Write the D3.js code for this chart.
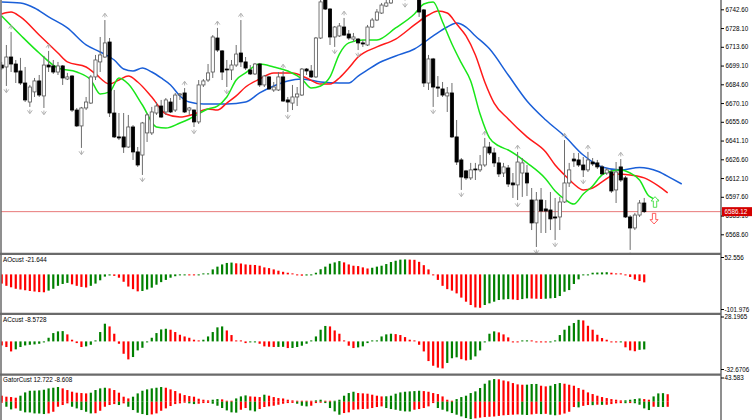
<!DOCTYPE html>
<html><head><meta charset="utf-8">
<script src="https://cdn.jsdelivr.net/npm/d3@7"></script>
<style>
html,body{margin:0;padding:0;background:#fff;overflow:hidden;}
svg{display:block;font-family:"Liberation Sans",Arial,sans-serif;}
</style></head><body>
<script>
// ---------------- DATA ----------------
// candles: [open, high, low, close]
const ohlc = [
[6699.5,6701.9,6695.7,6697.2],[6698.0,6715.0,6683.3,6705.7],[6705.7,6725.1,6694.1,6700.3],[6700.3,6703.4,6685.6,6694.1],
[6694.9,6705.0,6684.1,6685.6],[6685.6,6698.0,6670.9,6672.5],[6670.9,6684.1,6667.1,6682.5],[6678.7,6689.5,6674.8,6687.2],
[6687.2,6691.8,6674.8,6676.3],[6675.6,6706.5,6666.3,6699.5],[6699.5,6710.4,6694.1,6698.0],[6698.8,6703.4,6692.6,6694.1],
[6694.1,6701.9,6691.8,6698.8],[6698.8,6699.5,6684.1,6689.5],[6688.7,6693.4,6687.9,6690.3],[6691.0,6691.8,6663.2,6664.7],
[6664.7,6666.3,6651.6,6652.4],[6652.4,6667.1,6635.4,6666.3],[6666.3,6674.8,6664.7,6670.9],[6670.1,6691.8,6669.4,6690.3],
[6690.3,6707.3,6687.9,6703.4],[6701.9,6721.2,6694.1,6707.3],[6705.7,6734.3,6705.0,6716.6],[6717.3,6720.4,6659.3,6662.4],
[6662.4,6680.2,6643.1,6643.9],[6643.9,6662.4,6641.5,6643.1],[6643.9,6662.4,6631.5,6636.1],[6636.1,6660.9,6635.4,6651.6],
[6651.6,6653.1,6626.1,6632.3],[6632.3,6636.1,6620.7,6622.2],[6629.9,6655.5,6614.5,6654.7],[6647.0,6662.4,6640.0,6660.9],
[6647.0,6667.1,6645.4,6663.2],[6662.4,6670.9,6660.9,6667.8],[6667.8,6672.5,6658.6,6659.3],[6663.2,6674.0,6660.9,6672.5],
[6670.9,6674.0,6662.4,6663.2],[6664.7,6677.9,6663.2,6676.3],[6676.3,6677.9,6672.5,6677.1],[6677.9,6681.7,6662.4,6663.2],
[6664.7,6667.1,6660.9,6666.3],[6664.7,6665.0,6651.6,6655.5],[6655.5,6687.9,6653.9,6684.1],[6684.1,6688.7,6682.5,6687.2],
[6687.9,6700.3,6686.4,6693.4],[6694.1,6722.7,6689.5,6721.2],[6720.4,6728.2,6709.6,6711.1],[6710.4,6711.1,6687.9,6694.1],
[6696.4,6703.4,6682.5,6695.7],[6695.7,6703.4,6687.9,6699.5],[6699.5,6715.0,6698.0,6708.0],[6708.8,6734.3,6698.0,6701.9],
[6701.9,6705.7,6695.7,6697.2],[6695.7,6699.5,6691.8,6692.6],[6692.6,6701.1,6691.8,6700.3],[6700.3,6701.1,6682.5,6684.1],
[6684.1,6691.8,6682.5,6691.0],[6690.3,6691.0,6680.2,6681.0],[6680.2,6686.4,6678.7,6682.5],[6680.2,6694.1,6679.4,6690.3],
[6690.3,6694.9,6670.9,6671.7],[6672.5,6674.8,6663.2,6670.9],[6670.1,6684.1,6664.7,6674.8],[6674.8,6682.5,6667.8,6677.1],
[6676.3,6697.2,6675.6,6696.4],[6696.4,6697.2,6691.8,6694.9],[6694.9,6699.5,6689.5,6690.3],[6690.3,6721.2,6689.5,6720.4],
[6720.4,6753.7,6719.6,6748.3],[6752.1,6757.5,6742.1,6742.8],[6742.8,6743.6,6715.0,6721.2],[6721.2,6729.7,6713.5,6728.9],
[6722.0,6732.0,6721.2,6729.7],[6728.9,6735.9,6722.0,6722.7],[6723.5,6726.6,6718.9,6720.4],[6719.6,6724.3,6717.3,6721.2],
[6719.6,6720.4,6711.1,6716.6],[6716.6,6718.9,6713.5,6715.8],[6715.0,6730.5,6714.2,6728.9],[6728.9,6735.9,6728.2,6734.3],
[6734.3,6742.8,6733.5,6740.5],[6739.7,6747.5,6739.0,6745.9],[6745.1,6749.8,6744.4,6747.5],[6747.5,6753.7,6746.7,6751.3],
[6751.5,6761.0,6751.0,6758.5],[6758.5,6766.0,6755.0,6763.0],[6763.0,6767.0,6749.5,6753.0],[6753.0,6762.0,6752.0,6760.0],
[6760.0,6764.0,6751.0,6752.0],[6751.3,6755.0,6736.7,6740.5],[6742.1,6742.8,6682.5,6685.6],[6685.6,6707.3,6680.2,6704.2],
[6704.2,6705.0,6667.1,6682.5],[6682.5,6691.0,6674.8,6681.7],[6681.0,6686.4,6674.8,6676.3],[6675.6,6682.5,6663.2,6677.9],
[6677.9,6685.6,6643.1,6643.9],[6643.9,6657.0,6622.2,6624.5],[6626.1,6627.6,6602.9,6612.9],[6617.6,6618.4,6610.6,6612.2],
[6612.2,6623.8,6610.6,6618.4],[6619.1,6623.8,6610.6,6618.4],[6618.4,6629.9,6616.8,6622.2],[6622.2,6643.1,6620.7,6636.1],
[6636.1,6640.0,6629.9,6631.5],[6631.5,6635.4,6620.7,6623.8],[6623.8,6628.4,6612.9,6615.3],[6616.0,6623.8,6612.9,6620.7],
[6619.9,6622.2,6605.2,6607.5],[6608.3,6616.0,6596.7,6606.8],[6606.8,6632.3,6595.1,6624.5],[6616.0,6627.6,6597.5,6623.8],
[6616.0,6622.2,6598.2,6608.3],[6595.1,6604.4,6571.9,6577.4],[6577.4,6601.3,6558.8,6595.1],[6595.1,6604.4,6569.6,6586.6],
[6588.2,6595.1,6569.6,6586.6],[6587.4,6601.3,6571.9,6580.5],[6582.0,6596.7,6564.2,6581.2],[6582.0,6597.5,6571.9,6593.6],
[6593.6,6641.5,6592.8,6608.3],[6608.3,6623.8,6605.2,6618.4],[6626.8,6631.5,6620.7,6625.3],[6626.1,6631.5,6620.7,6622.2],
[6622.2,6628.4,6612.9,6618.4],[6618.4,6632.3,6616.8,6626.1],[6624.5,6627.6,6621.4,6623.0],[6623.8,6626.1,6619.1,6620.7],
[6620.7,6622.2,6614.5,6615.3],[6616.0,6619.9,6614.5,6618.4],[6616.8,6618.4,6600.6,6602.1],[6602.9,6624.5,6592.8,6616.8],
[6620.7,6626.8,6609.1,6610.6],[6612.2,6613.7,6581.2,6582.0],[6582.0,6583.5,6556.5,6573.5],[6573.5,6585.1,6571.9,6583.5],
[6583.5,6595.1,6582.0,6592.8],[6592.8,6596.7,6585.1,6586.12]
];

// alligator lines: [bar index, price]
const jaw = [[0,6748.3],[4,6747.5],[7,6743.6],[10,6736.7],[14,6728.2],[18,6715.0],[21,6709.6],[24,6703.4],[26,6696.4],[28,6694.9],[30,6697.2],[32,6694.1],[34,6689.5],[36,6684.1],[38,6675.6],[40,6670.9],[43,6669.4],[48,6669.4],[52,6670.9],[55,6677.9],[58,6683.3],[61,6687.2],[64,6688.7],[68,6686.4],[72,6685.6],[74,6685.6],[76,6691.0],[78,6695.7],[80,6700.3],[84,6706.5],[88,6711.9],[92,6722.0],[95,6728.9],[97,6732.0],[99,6728.9],[101,6722.0],[104,6712.0],[108,6691.8],[112,6671.7],[116,6657.0],[120,6644.6],[124,6629.9],[128,6620.7],[132,6618.4],[136,6620.3],[140,6617.2],[143,6611.4],[145,6607.5]];
const teeth = [[0,6739.0],[2,6740.5],[4,6736.7],[8,6722.7],[12,6708.8],[14,6701.9],[18,6698.0],[20,6692.6],[23,6684.8],[25,6687.9],[27,6691.0],[29,6686.4],[32,6674.8],[35,6661.6],[38,6659.3],[41,6661.6],[44,6665.5],[46,6664.7],[48,6670.1],[50,6675.6],[52,6682.5],[55,6688.7],[58,6693.4],[62,6693.4],[65,6689.5],[68,6684.8],[70,6684.8],[72,6689.5],[74,6697.2],[76,6705.7],[80,6713.5],[84,6719.6],[88,6730.5],[91,6738.2],[93,6741.3],[95,6739.7],[97,6731.2],[99,6722.0],[101,6707.3],[103,6686.4],[105,6670.1],[108,6657.8],[112,6643.9],[116,6632.3],[118,6622.2],[120,6614.5],[122,6607.5],[124,6602.9],[126,6604.4],[128,6609.1],[131,6615.3],[134,6614.5],[137,6612.2],[140,6606.0],[142,6600.6]];
const lips = [[0,6737.4],[4,6722.7],[8,6708.8],[12,6697.2],[16,6694.1],[19,6687.9],[21,6677.1],[23,6678.7],[25,6689.5],[27,6684.8],[30,6668.6],[33,6651.6],[35,6650.8],[38,6654.7],[40,6657.8],[44,6665.5],[46,6667.8],[48,6674.8],[50,6687.9],[52,6693.4],[55,6700.3],[58,6698.0],[61,6694.9],[64,6688.7],[66,6681.7],[68,6683.3],[70,6690.3],[72,6708.0],[74,6716.6],[77,6718.9],[80,6718.9],[84,6728.2],[88,6739.0],[90,6746.7],[92,6748.3],[94,6732.8],[96,6715.8],[98,6701.1],[100,6687.2],[102,6661.6],[104,6643.1],[106,6636.9],[108,6633.8],[112,6623.8],[116,6611.4],[118,6602.1],[120,6595.9],[122,6592.0],[124,6599.8],[126,6606.0],[128,6614.5],[130,6617.6],[132,6618.4],[134,6616.0],[136,6610.6],[138,6598.2],[140,6595.1]];

// fractal bar indices
const fractalUp = [2,10,22,39,46,51,60,73,103,110,120,125,132];
const fractalDown = [1,6,9,17,30,41,48,61,71,76,86,92,98,110,114,118,124,134];
// signal arrows
const signals = [{k:139.3,p:6593.6,dir:"up"},{k:139.1,p:6580.7,dir:"down"}];

const mainTicks = [6742.60,6728.10,6713.60,6699.10,6684.60,6670.10,6655.60,6641.10,6626.60,6612.10,6597.60,6583.10,6568.60];
const lastPrice = 6586.12;

const ao = [-25,-31,-35,-39,-41,-43,-45,-46.5,-48,-48.5,-44,-39,-31,-26,-23,-27,-31,-34,-35.5,-31,
-25,-16,-6,-3,-4,-9,-20,-33,-40,-46,-45,-41,-36,-28,-21,-15,-9,-5,-2.5,-1,
-1.3,-1.6,-1.0,0.3,2.5,13.5,21,27,31,32,30,29.5,27,26,25.5,23.5,19,17,13.5,10,
7,4.5,1,-2,-3.5,-3,-1.5,4.5,14,21,29,32.5,36,32.5,27,23.5,22.5,19,16,18,
21,23.5,28,33.5,37,40,40.5,40,39.5,34,25,13.5,-1,-15,-31,-40,-44,-51.5,-63,-74,
-83,-89.5,-90.5,-83,-78.5,-74,-69.5,-68,-67,-68,-69.5,-67,-65,-65.5,-66,-66.5,-66,-65,-64,-58.7,
-47,-42.5,-26,-13.5,-2.7,-0.9,4.5,5,5.4,5.9,4.5,2.7,0.9,-1.5,-7,-14,-18,-21.644];
const aoTicks = [52.556,-101.976];

const ac = [-4.3,-6,-10.7,-8.5,-6,-4.3,-3.6,-3.2,-2.5,-0.7,3.9,8.9,10.7,11,7.5,1.8,-1.8,-6,-5.3,-3.6,
1,10,18.9,16,8.2,-2.5,-13.2,-19.2,-16.7,-9.6,-6.8,-0.4,3.9,8.9,12.8,13.5,12.5,10,7.1,5.3,
3.9,1.8,1.0,1.8,5.3,10,15,16,11.7,6.8,1,0.2,-1.8,-1,-0.8,-2.5,-5.3,-5.7,-6,-5.9,
-5.8,-7.1,-7,-6,-4.6,-2.5,1,5.3,12.5,16.5,16,11.7,8.2,1,-4.6,-7.1,-6.4,-5.3,-1.8,0,
1,5.3,7.5,8.2,7.8,6.8,4.6,1.8,0.4,-3.6,-10.7,-21,-26,-28,-28.8,-23,-18,-17,-19,-20.3,
-19.6,-16,-9.6,-0.3,8.2,10.7,9.6,7.5,4.3,-0.1,-0.4,1,1.1,0,-0.4,-0.7,-1,-0.1,1,6.8,
12.5,16.7,19.6,23,22.4,16.7,12.5,7.1,3.6,1.8,-0.4,-1,-0.8,-6.3,-9.6,-10.5,-9,-8.5728];
const acTicks = [28.1965,-32.6706];

const gatorUp = [10.2,8.5,7.9,6.8,10.2,15.8,18.6,18.8,19.2,20.3,22.6,23.7,24.9,22.6,19.8,17,15.3,14.7,14.1,15.3,
19.8,22.6,23.7,22.6,19.8,15.3,8.5,5.6,8.5,14.1,18.6,20.9,22.6,23.7,24.9,23.7,20.9,18.1,14.1,11.3,
9.6,8.5,5.1,3.4,2.3,3.4,4.5,4.0,1.5,0.8,5.6,9.0,10.7,9.0,8.5,7.9,11.9,10.2,7.9,6.2,
5.5,3.4,2.3,1.7,1.5,0.6,0.5,2.3,3.4,0.6,0.4,0.6,3.4,10.2,14.7,16.9,14.7,14.2,13.6,11.9,
10.2,9.0,9.2,10.2,13.6,15.8,16.9,17.5,18.0,18.6,18.0,16.9,14.7,13.0,9.0,3.4,0.6,4.5,7.9,10.2,
14.7,17.5,23.2,30.5,36.2,38.4,38.0,36.0,34.5,31.6,29.4,28.8,28.9,30.0,30.1,27.1,26.0,27.1,30.0,31.6,
30.5,28.8,27.1,23.2,20.3,15.8,13.0,10.2,7.9,6.2,4.5,3.4,2.3,2.4,3.4,4.5,5.6,4.5,3.4,9.0,
14.1,14.5,12.722];
const gatorDown = [-1.7,-8.5,-13,-11.3,-15.3,-18,-18.2,-19.8,-20,-20.9,-19.8,-17,-8.5,-5.6,-2.8,-8.5,-11.3,-14.1,-17,-19.8,
-19.5,-15.3,-8.5,-5.6,-4,-5.6,-2.8,-8.5,-14.1,-18.6,-20.9,-22.6,-21.5,-19.8,-15.3,-11.3,-7.3,-4,-2.8,-1.7,
-2.8,-4,-3.4,-2.3,-2.0,-3.4,-6.8,-10.7,-14.7,-18,-18.5,-13.6,-10.7,-14.7,-16.4,-12.4,-9,-7.9,-6.8,-5.1,
-3.4,-2.3,-2.0,-3.4,-6.8,-7.9,-6.8,-2.3,-1.1,-2.3,-10.7,-16.4,-22,-19.2,-18,-13.6,-13.0,-12.4,-12.0,-10.7,
-9,-7.9,-10.7,-12.4,-13.6,-15.3,-16.4,-16.6,-13.6,-12.4,-10.7,-7.9,-2.3,-10.7,-13.6,-16.4,-19.2,-22,-24.9,-27.7,
-29.4,-28.2,-27,-26,-25.5,-25,-24,-23,-22.5,-22,-21.5,-22,-22.5,-21.5,-20.5,-21,-20.5,-22,-23,-22,
-20,-17,-9,-9.6,-7,-5.6,-5.8,-5.1,-5.3,-5.2,-4,-2.8,-2.4,-2.5,-2.3,-2.6,-5.1,-11.3,-14.1,-8.5,
-8.8,-9,-8.608];
const gatorTicks = [43.583];

// ---------------- DRAW ----------------
const W = 752, H = 420, AX = 721;
const GREEN = "#008000", RED = "#ff0000";
const svg = d3.select("body").append("svg").attr("width", W).attr("height", H);
svg.append("rect").attr("width", W).attr("height", H).attr("fill", "#fff");

const x = d3.scaleLinear().domain([0, 145]).range([1.7, 681.75]);
const yMain = d3.scaleLinear().domain([6568.6, 6742.6]).range([234.3, 9.3]);
const yAO = d3.scaleLinear().domain([-101.976, 52.556]).range([312, 255]);
const yAC = d3.scaleLinear().domain([-32.6706, 28.1965]).range([372, 315]);
const yG = d3.scaleLinear().domain([-53.0, 43.583]).range([433, 376]);

const defs = svg.append("defs");
function clip(id, y0, h) {
  defs.append("clipPath").attr("id", id).append("rect").attr("x", 1).attr("y", y0).attr("width", AX - 1).attr("height", h);
  return svg.append("g").attr("clip-path", `url(#${id})`);
}
const gMain = clip("cMain", 0, 253);
const gAO = clip("cAO", 255, 58);
const gAC = clip("cAC", 315, 59);
const gG = clip("cG", 376, 44);

// price line
gMain.append("line").attr("x1", 0).attr("x2", AX).attr("y1", yMain(lastPrice)).attr("y2", yMain(lastPrice))
  .attr("stroke", "#e87a7a").attr("stroke-width", 1);

// alligator lines
const lineGen = d3.line().x(d => x(d[0])).y(d => yMain(d[1])).curve(d3.curveMonotoneX);
[[jaw, "#1a5fd8"], [teeth, "#ff1a1a"], [lips, "#19e619"]].forEach(([data, col]) => {
  gMain.append("path").attr("d", lineGen(data)).attr("fill", "none").attr("stroke", col).attr("stroke-width", 1.5);
});

// candles
const cg = gMain.append("g");
ohlc.forEach((c, i) => {
  const [o, h, l, cl] = c;
  const cx = x(i);
  cg.append("line").attr("x1", cx).attr("x2", cx).attr("y1", yMain(h)).attr("y2", yMain(l))
    .attr("stroke", "#6e6e6e").attr("stroke-width", 1);
  const top = yMain(Math.max(o, cl)), bot = yMain(Math.min(o, cl));
  const up = cl >= o;
  cg.append("rect").attr("x", cx - 1.6).attr("width", 3.2).attr("y", top).attr("height", Math.max(0.8, bot - top))
    .attr("fill", up ? "#fff" : "#000").attr("stroke", up ? "#555" : "#000").attr("stroke-width", 0.8);
});

// fractals
function chevron(g, cx, cy, up) {
  const s = up ? -1 : 1;
  g.append("path").attr("d", `M${cx - 2.4},${cy - s * 1.6} L${cx},${cy + s * 1.8} L${cx + 2.4},${cy - s * 1.6} M${cx},${cy + s * 1.2} L${cx},${cy - s * 2.4}`)
    .attr("fill", "none").attr("stroke", "#a8a8a8").attr("stroke-width", 0.9);
}
fractalUp.forEach(k => chevron(gMain, x(k), yMain(ohlc[k][1]) - 5, true));
fractalDown.forEach(k => chevron(gMain, x(k), yMain(ohlc[k][2]) + 5, false));

// signal arrows
signals.forEach(s => {
  const cx = x(s.k), cy = yMain(s.p), d = s.dir === "up" ? -1 : 1;
  const pts = [[0, 5.3 * d], [4, 1 * d], [1.7, 1 * d], [1.7, -5.3 * d], [-1.7, -5.3 * d], [-1.7, 1 * d], [-4, 1 * d]];
  svg.append("path").attr("d", "M" + pts.map(p => `${cx + p[0]},${cy + p[1]}`).join("L") + "Z")
    .attr("fill", "#fff").attr("stroke", s.dir === "up" ? "#52e052" : "#ff5a5a").attr("stroke-width", 1);
});

// histograms
function colorsOf(arr, absMode) {
  let prev = RED;
  return arr.map((v, i) => {
    if (i === 0) return prev;
    const a = absMode ? Math.abs(v) : v, b = absMode ? Math.abs(arr[i - 1]) : arr[i - 1];
    if (a > b) prev = GREEN; else if (a < b) prev = RED;
    return prev;
  });
}
function hist(g, arr, y, absMode) {
  const cols = colorsOf(arr, absMode);
  arr.forEach((v, i) => {
    const y0 = y(0), y1 = y(v);
    let top = Math.min(y0, y1), h = Math.abs(y1 - y0);
    if (h < 1) { h = 1; top = v >= 0 ? y0 - 1 : y0; }
    g.append("rect").attr("x", x(i) - 1.1).attr("width", 2.2).attr("y", top).attr("height", h).attr("fill", cols[i]);
  });
}
hist(gAO, ao, yAO, false);
hist(gAC, ac, yAC, false);
hist(gG, gatorUp, yG, false);
hist(gG, gatorDown, yG, true);

// panel labels
const fs = 6.3;
function txt(xp, yp, s, anchor) {
  svg.append("text").attr("x", xp).attr("y", yp).attr("font-size", fs).attr("fill", "#000")
    .attr("text-anchor", anchor || "start").text(s);
}
txt(3, 261.5, "AOcust " + ao[ao.length - 1].toFixed(3));
txt(3, 322, "ACcust " + ac[ac.length - 1].toFixed(4));
txt(3, 381.5, "GatorCust " + gatorUp[gatorUp.length - 1].toFixed(3) + " " + gatorDown[gatorDown.length - 1].toFixed(3));

// frame lines
const frame = "#6a6a6a";
svg.append("line").attr("x1", AX).attr("x2", AX).attr("y1", 0).attr("y2", H).attr("stroke", frame).attr("stroke-width", 1.5);
svg.append("line").attr("x1", 1).attr("x2", 1).attr("y1", 0).attr("y2", H).attr("stroke", frame).attr("stroke-width", 1.5);
[253.8, 313.8, 374.6].forEach(yy => {
  svg.append("line").attr("x1", 0).attr("x2", AX).attr("y1", yy).attr("y2", yy).attr("stroke", frame).attr("stroke-width", 2.2);
});

// main axis
const axis = d3.axisRight(yMain).tickValues(mainTicks).tickFormat(d => d.toFixed(2)).tickSize(3).tickSizeOuter(0).tickPadding(1.5);
const ga = svg.append("g").attr("transform", `translate(${AX},0)`).call(axis);
ga.select(".domain").remove();
ga.selectAll("text").attr("font-size", fs).attr("font-family", "Liberation Sans, Arial, sans-serif").attr("fill", "#000");
ga.selectAll("line").attr("stroke", "#000");

// sub axes labels (top/bottom values)
function sideLabel(v, yp, dec) {
  svg.append("line").attr("x1", AX).attr("x2", AX + 3).attr("y1", yp - 2).attr("y2", yp - 2).attr("stroke", "#000");
  txt(AX + 3.5, yp, v.toFixed(dec));
}
sideLabel(aoTicks[0], yAO(aoTicks[0]) + 4.5, 3);
sideLabel(aoTicks[1], yAO(aoTicks[1]) - 0.5, 3);
sideLabel(acTicks[0], yAC(acTicks[0]) + 4, 4);
sideLabel(acTicks[1], yAC(acTicks[1]) - 0.5, 4);
sideLabel(gatorTicks[0], yG(gatorTicks[0]) + 4, 3);

// last price label
const ly = yMain(lastPrice);
svg.append("rect").attr("x", AX + 1).attr("y", ly - 4.5).attr("width", W - AX - 1).attr("height", 9).attr("fill", "#d40000");
svg.append("text").attr("x", AX + 3.5).attr("y", ly + 2.2).attr("font-size", fs).attr("fill", "#fff").text(lastPrice.toFixed(2));
</script>
</body></html>
